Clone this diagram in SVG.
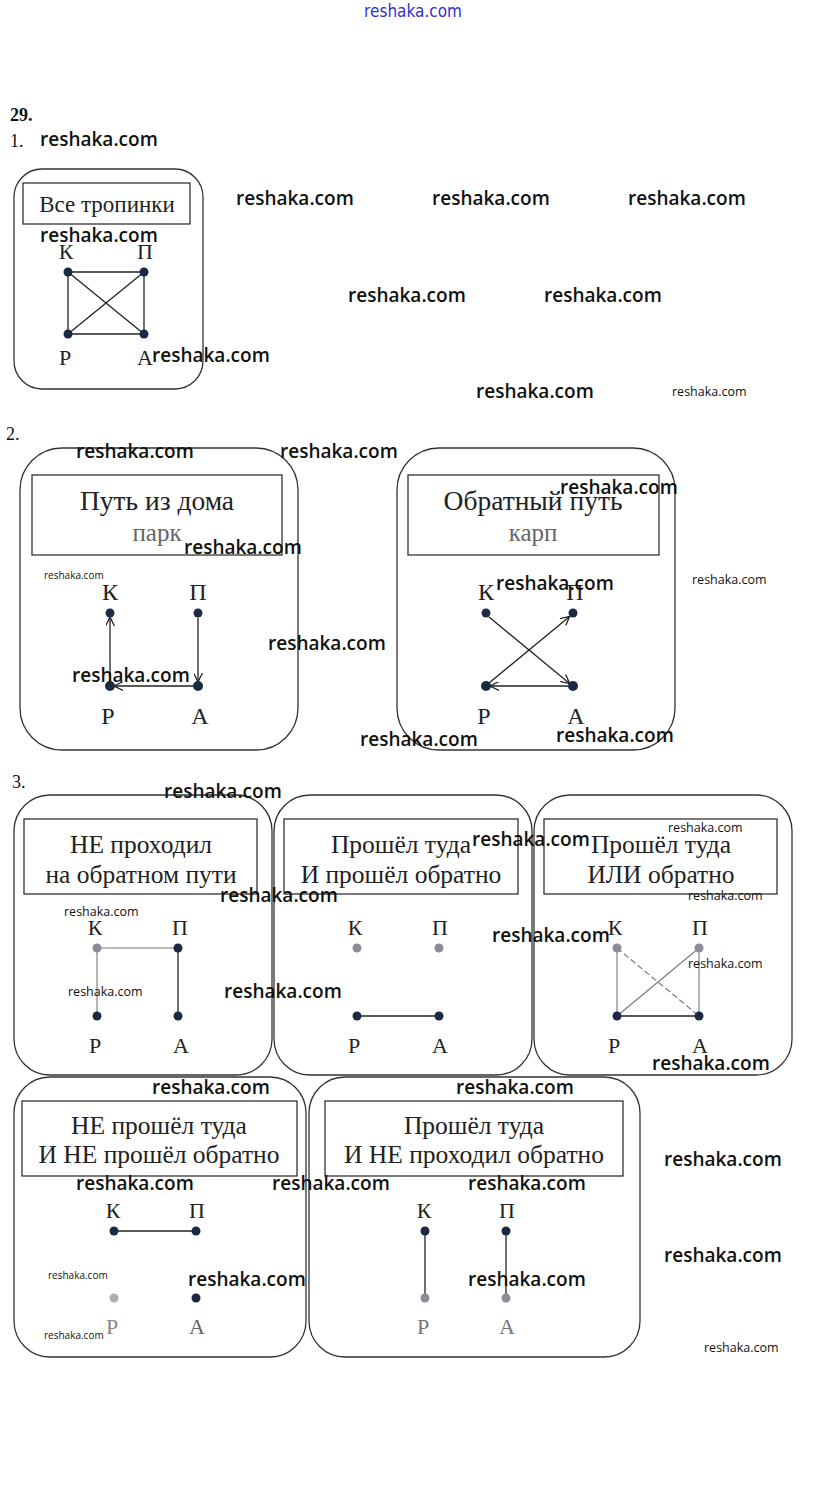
<svg xmlns="http://www.w3.org/2000/svg" width="823" height="1492" viewBox="0 0 823 1492">
<style>
.bg{fill:#fff}
.card{fill:none;stroke:#333;stroke-width:1.3}
.hdr{fill:none;stroke:#222;stroke-width:1.2}
.t{font-family:"Liberation Serif","Times New Roman",serif;fill:#222}
.ht{font-size:25.5px;text-anchor:middle}
.lb{font-size:22px;text-anchor:middle}
.lb2{font-size:24px;text-anchor:middle}
.num{font-family:"Liberation Serif",serif;font-size:18px;fill:#111}
.e{stroke:#222;stroke-width:1.3;fill:none}
.eg{stroke:#777;stroke-width:1.1;fill:none}
.d{fill:#1c2942}
.g{fill:#8a8d96}
.wm{font-family:"Open Sans","DejaVu Sans",sans-serif;font-weight:600;font-size:19px;fill:#111}
.ws{font-family:"Open Sans","DejaVu Sans",sans-serif;font-size:12.5px;fill:#111}
.wx{font-family:"Open Sans","DejaVu Sans",sans-serif;font-size:10px;fill:#111}
</style>
<defs>
<marker id="ar" viewBox="0 0 10 10" refX="9" refY="5" markerWidth="9" markerHeight="9" markerUnits="userSpaceOnUse" orient="auto">
<path d="M0,0 L10,5 L0,10" fill="none" stroke="#222" stroke-width="1.4"/>
</marker>
</defs>
<rect class="bg" x="0" y="0" width="823" height="1492"/>

<text x="413" y="17" text-anchor="middle" style="font-family:'DejaVu Sans Condensed','Liberation Sans Narrow',sans-serif;font-size:17px;fill:#3030d0">reshaka.com</text>
<text class="num" x="10" y="121" font-weight="bold">29.</text>
<text class="num" x="10" y="147">1.</text>
<text class="num" x="6" y="440">2.</text>
<text class="num" x="12" y="788">3.</text>

<!-- Section 1 -->
<g id="node-all">
<rect class="card" x="14" y="169" width="189" height="220" rx="28"/>
<rect class="hdr" x="23" y="183" width="167" height="41"/>
<text class="t" x="107" y="212" style="font-size:23px;text-anchor:middle">Все тропинки</text>
<line class="e" x1="68" y1="272" x2="144" y2="272"/>
<line class="e" x1="68" y1="334" x2="144" y2="334"/>
<line class="e" x1="68" y1="272" x2="68" y2="334"/>
<line class="e" x1="144" y1="272" x2="144" y2="334"/>
<line class="e" x1="68" y1="272" x2="144" y2="334"/>
<line class="e" x1="144" y1="272" x2="68" y2="334"/>
<circle class="d" cx="68" cy="272" r="4.5"/><circle class="d" cx="144" cy="272" r="4.5"/>
<circle class="d" cx="68" cy="334" r="4.5"/><circle class="d" cx="144" cy="334" r="4.5"/>
<text class="t lb" x="66" y="259">К</text>
<text class="t lb" x="145" y="259">П</text>
<text class="t lb" x="65" y="365">Р</text>
<text class="t lb" x="145" y="365">А</text>
</g>

<!-- Section 2 -->
<g id="node-forward">
<rect class="card" x="20" y="448" width="278" height="302" rx="42"/>
<rect class="hdr" x="32" y="475" width="250" height="80"/>
<text class="t" x="157" y="510" style="font-size:27.5px;text-anchor:middle">Путь из дома</text>
<text class="t" x="157" y="541" style="font-size:25px;text-anchor:middle;fill:#666">парк</text>
<circle class="d" cx="110" cy="613" r="4.5"/><circle class="d" cx="198" cy="613" r="4.5"/>
<circle class="d" cx="110" cy="686" r="5"/><circle class="d" cx="198" cy="686" r="5"/>
<text class="t lb2" x="110" y="600">К</text>
<text class="t lb2" x="198" y="600">П</text>
<text class="t lb2" x="108" y="724">Р</text>
<text class="t lb2" x="200" y="724">А</text>
</g>
<g id="node-back">
<rect class="card" x="397" y="448" width="278" height="302" rx="42"/>
<rect class="hdr" x="408" y="475" width="251" height="80"/>
<text class="t" x="533" y="510" style="font-size:27.5px;text-anchor:middle">Обратный путь</text>
<text class="t" x="533" y="541" style="font-size:25px;text-anchor:middle;fill:#666">карп</text>
<circle class="d" cx="486" cy="613" r="4.5"/><circle class="d" cx="573" cy="613" r="4.5"/>
<circle class="d" cx="486" cy="686" r="5"/><circle class="d" cx="573" cy="686" r="5"/>
<text class="t lb2" x="486" y="600">К</text>
<text class="t lb2" x="575" y="600">П</text>
<text class="t lb2" x="484" y="724">Р</text>
<text class="t lb2" x="576" y="724">А</text>
</g>

<!-- Section 3 -->
<g id="node-not-back">
<rect class="card" x="14" y="795" width="258" height="280" rx="36"/>
<rect class="hdr" x="24" y="819" width="233" height="75"/>
<text class="t ht" x="141" y="853">НЕ проходил</text>
<text class="t ht" x="141" y="883">на обратном пути</text>
<line class="eg" x1="97" y1="948" x2="178" y2="948"/>
<line class="eg" x1="97" y1="948" x2="97" y2="1016"/>
<line class="e" x1="178" y1="948" x2="178" y2="1016"/>
<circle class="g" cx="97" cy="948" r="4.5"/><circle class="d" cx="178" cy="948" r="4.5"/>
<circle class="d" cx="97" cy="1016" r="4.5"/><circle class="d" cx="178" cy="1016" r="4.5"/>
<text class="t lb" x="95" y="935">К</text>
<text class="t lb" x="180" y="935">П</text>
<text class="t lb" x="95" y="1053">Р</text>
<text class="t lb" x="181" y="1053">А</text>
</g>
<g id="node-both">
<rect class="card" x="274" y="795" width="258" height="280" rx="36"/>
<rect class="hdr" x="284" y="819" width="234" height="75"/>
<text class="t ht" x="401" y="853">Прошёл туда</text>
<text class="t ht" x="401" y="883">И прошёл обратно</text>
<line class="e" x1="357" y1="1016" x2="439" y2="1016"/>
<circle class="g" cx="357" cy="948" r="4.5"/><circle class="g" cx="439" cy="948" r="4.5"/>
<circle class="d" cx="357" cy="1016" r="4.5"/><circle class="d" cx="439" cy="1016" r="4.5"/>
<text class="t lb" x="355" y="935">К</text>
<text class="t lb" x="440" y="935">П</text>
<text class="t lb" x="354" y="1053">Р</text>
<text class="t lb" x="440" y="1053">А</text>
</g>
<g id="node-either">
<rect class="card" x="534" y="795" width="258" height="280" rx="36"/>
<rect class="hdr" x="544" y="819" width="233" height="75"/>
<text class="t ht" x="661" y="853">Прошёл туда</text>
<text class="t ht" x="661" y="883">ИЛИ обратно</text>
<line class="eg" x1="617" y1="948" x2="617" y2="1016"/>
<line class="eg" x1="699" y1="948" x2="699" y2="1016"/>
<line class="eg" x1="617" y1="948" x2="699" y2="1016" stroke-dasharray="6,3"/>
<line class="eg" x1="699" y1="948" x2="617" y2="1016"/>
<line class="e" x1="617" y1="1016" x2="699" y2="1016"/>
<circle class="g" cx="617" cy="948" r="4.5"/><circle class="g" cx="699" cy="948" r="4.5"/>
<circle class="d" cx="617" cy="1016" r="4.5"/><circle class="d" cx="699" cy="1016" r="4.5"/>
<text class="t lb" x="615" y="935">К</text>
<text class="t lb" x="700" y="935">П</text>
<text class="t lb" x="614" y="1053">Р</text>
<text class="t lb" x="700" y="1053">А</text>
</g>
<g id="node-neither">
<rect class="card" x="14" y="1077" width="292" height="280" rx="36"/>
<rect class="hdr" x="22" y="1101" width="275" height="75"/>
<text class="t ht" x="159" y="1134">НЕ прошёл туда</text>
<text class="t ht" x="159" y="1163">И НЕ прошёл обратно</text>
<line class="e" x1="114" y1="1231" x2="196" y2="1231"/>
<circle class="d" cx="114" cy="1231" r="4.5"/><circle class="d" cx="196" cy="1231" r="4.5"/>
<circle class="g" cx="114" cy="1298" r="4.5" opacity="0.7"/><circle class="d" cx="196" cy="1298" r="4.5"/>
<text class="t lb" x="113" y="1218">К</text>
<text class="t lb" x="197" y="1218">П</text>
<text class="t lb" x="112" y="1334" style="fill:#888">Р</text>
<text class="t lb" x="197" y="1334" style="fill:#666">А</text>
</g>
<g id="node-there-only">
<rect class="card" x="309" y="1077" width="331" height="280" rx="36"/>
<rect class="hdr" x="325" y="1101" width="298" height="75"/>
<text class="t ht" x="474" y="1134">Прошёл туда</text>
<text class="t ht" x="474" y="1163">И НЕ проходил обратно</text>
<line class="e" x1="425" y1="1231" x2="425" y2="1298"/>
<line class="e" x1="506" y1="1231" x2="506" y2="1298"/>
<circle class="d" cx="425" cy="1231" r="4.5"/><circle class="d" cx="506" cy="1231" r="4.5"/>
<circle class="g" cx="425" cy="1298" r="4.5"/><circle class="g" cx="506" cy="1298" r="4.5"/>
<text class="t lb" x="424" y="1218">К</text>
<text class="t lb" x="507" y="1218">П</text>
<text class="t lb" x="423" y="1334" style="fill:#777">Р</text>
<text class="t lb" x="507" y="1334" style="fill:#777">А</text>
</g>

<g id="connectors">
<line class="e" x1="198" y1="618" x2="198" y2="681" marker-end="url(#ar)"/>
<line class="e" x1="193" y1="686" x2="115" y2="686" marker-end="url(#ar)"/>
<line class="e" x1="110" y1="681" x2="110" y2="618" marker-end="url(#ar)"/>
<line class="e" x1="489" y1="617" x2="569" y2="683" marker-end="url(#ar)"/>
<line class="e" x1="568" y1="686" x2="491" y2="686" marker-end="url(#ar)"/>
<line class="e" x1="489" y1="683" x2="569" y2="617" marker-end="url(#ar)"/>
</g>

<g id="watermarks">
<text class="wm" x="40" y="146">reshaka.com</text>
<text class="wm" x="236" y="205">reshaka.com</text>
<text class="wm" x="432" y="205">reshaka.com</text>
<text class="wm" x="628" y="205">reshaka.com</text>
<text class="wm" x="40" y="242">reshaka.com</text>
<text class="wm" x="348" y="302">reshaka.com</text>
<text class="wm" x="544" y="302">reshaka.com</text>
<text class="wm" x="152" y="362">reshaka.com</text>
<text class="wm" x="476" y="398">reshaka.com</text>
<text class="ws" x="672" y="396">reshaka.com</text>
<text class="wm" x="76" y="458">reshaka.com</text>
<text class="wm" x="280" y="458">reshaka.com</text>
<text class="wm" x="560" y="494">reshaka.com</text>
<text class="wm" x="184" y="554">reshaka.com</text>
<text class="wx" x="44" y="579">reshaka.com</text>
<text class="wm" x="496" y="590">reshaka.com</text>
<text class="ws" x="692" y="584">reshaka.com</text>
<text class="wm" x="268" y="650">reshaka.com</text>
<text class="wm" x="72" y="682">reshaka.com</text>
<text class="wm" x="360" y="746">reshaka.com</text>
<text class="wm" x="556" y="742">reshaka.com</text>
<text class="wm" x="164" y="798">reshaka.com</text>
<text class="wm" x="472" y="846">reshaka.com</text>
<text class="ws" x="668" y="832">reshaka.com</text>
<text class="wm" x="220" y="902">reshaka.com</text>
<text class="ws" x="688" y="900">reshaka.com</text>
<text class="ws" x="64" y="916">reshaka.com</text>
<text class="wm" x="492" y="942">reshaka.com</text>
<text class="ws" x="688" y="968">reshaka.com</text>
<text class="ws" x="68" y="996">reshaka.com</text>
<text class="wm" x="224" y="998">reshaka.com</text>
<text class="wm" x="652" y="1070">reshaka.com</text>
<text class="wm" x="152" y="1094">reshaka.com</text>
<text class="wm" x="456" y="1094">reshaka.com</text>
<text class="wm" x="664" y="1166">reshaka.com</text>
<text class="wm" x="76" y="1190">reshaka.com</text>
<text class="wm" x="272" y="1190">reshaka.com</text>
<text class="wm" x="468" y="1190">reshaka.com</text>
<text class="wm" x="664" y="1262">reshaka.com</text>
<text class="wx" x="48" y="1279">reshaka.com</text>
<text class="wm" x="188" y="1286">reshaka.com</text>
<text class="wm" x="468" y="1286">reshaka.com</text>
<text class="wx" x="44" y="1339">reshaka.com</text>
<text class="ws" x="704" y="1352">reshaka.com</text>
</g>
</svg>
